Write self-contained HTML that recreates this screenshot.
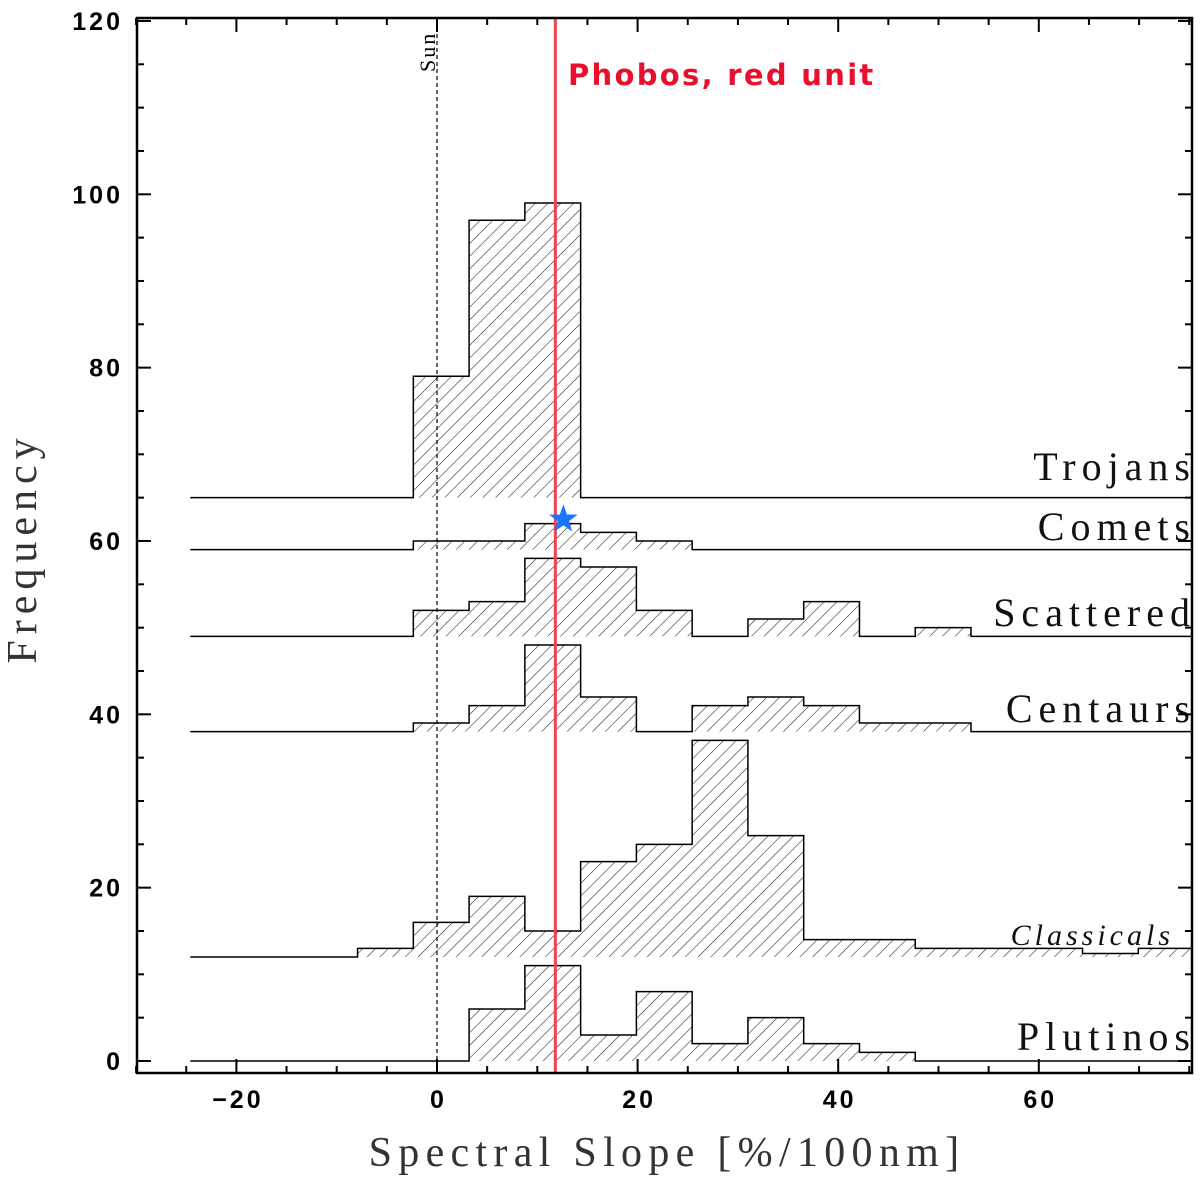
<!DOCTYPE html>
<html><head><meta charset="utf-8"><style>
body{margin:0;background:#fff}
svg{display:block}
</style></head><body>
<svg id="chart" width="1200" height="1188" viewBox="0 0 1200 1188" xmlns="http://www.w3.org/2000/svg">
<defs>
<pattern id="hatch" patternUnits="userSpaceOnUse" width="9" height="9" patternTransform="rotate(45)">
<line x1="0" y1="0" x2="0" y2="9" stroke="#222" stroke-width="1.1"/>
</pattern>
</defs>
<g id="plot"></g>
</svg>
<script>
const binEdges=[-24.6,-19.04,-13.48,-7.92,-2.36,3.2,8.76,14.32,19.88,25.44,31,36.56,42.12,47.68,53.24,58.8,64.36,69.92,75.48];
const seriesNames=["Trojans","Comets","Scattered","Centaurs","Classicals","Plutinos"];
const baselines=[65,59,49,38,12,0];
const trojans=[65,65,65,65,79,97,99,65,65,65,65,65,65,65,65,65,65,65];
const comets=[59,59,59,59,60,60,62,61,60,59,59,59,59,59,59,59,59,59];
const scattered=[49,49,49,49,52,53,58,57,52,49,51,53,49,50,49,49,49,49];
const centaurs=[38,38,38,38,39,41,48,42,38,41,42,41,39,39,38,38,38,38];
const classicals=[12,12,12,13,16,19,15,23,25,37,26,14,14,13,13,13,12.4,13];
const plutinos=[0,0,0,0,0,6,11,3,8,2,5,2,1,0,0,0,0,0];
const xTicks=[-20,0,20,40,60];
const yTicks=[0,20,40,60,80,100,120];
const phobosSlope=11.8, starPoint=[12.6,62.5], sunSlope=0;

const X=v=>437+v*10.03;
const Y=v=>1061-v*8.667;
const NS="http://www.w3.org/2000/svg";
const g=document.getElementById('plot');
function mk(t,a){const e=document.createElementNS(NS,t);for(const k in a)e.setAttribute(k,a[k]);g.appendChild(e);return e;}

const all=[trojans,comets,scattered,centaurs,classicals,plutinos];
const labelPos=[[1196,480],[1196,540],[1196,626],[1196,722],[1174,945],[1196,1050]];
all.forEach((vals,si)=>{
  const base=baselines[si];
  let d=`M${X(binEdges[0])},${Y(base)}`;
  let area=`M${X(binEdges[0])},${Y(base)}`;
  vals.forEach((v,i)=>{
    d+=` L${X(binEdges[i])},${Y(v)} L${X(binEdges[i+1])},${Y(v)}`;
    area+=` L${X(binEdges[i])},${Y(v)} L${X(binEdges[i+1])},${Y(v)}`;
  });
  const xe=Math.min(X(binEdges[vals.length]),1192);
  area+=` L${xe},${Y(base)} Z`;
  const a=mk('path',{d:area,fill:'url(#hatch)',stroke:'none'});
  
  
  const p=mk('path',{d:d,fill:'none',stroke:'#000','stroke-width':1.5});
  
  
  const t=mk('text',{x:labelPos[si][0],y:labelPos[si][1],'text-anchor':'end','font-family':'Liberation Serif, serif','font-size':si==4?30:40,'font-style':si==4?'italic':'normal','letter-spacing':si==4?4:6,fill:'#111'});
  t.textContent=seriesNames[si];
  
  
});
const m=mk('rect',{x:1193,y:0,width:7,height:1188,fill:'#fff'});



const sl=mk('line',{x1:X(sunSlope),x2:X(sunSlope),y1:20,y2:1072,stroke:'#000','stroke-width':1.2,'stroke-dasharray':'4,3'});


const st=mk('text',{x:0,y:0,transform:`translate(${X(sunSlope)-2},72) rotate(-90)`,'font-family':'Liberation Serif, serif','font-size':22,'letter-spacing':2});
st.textContent='Sun';



const pl=mk('line',{x1:X(phobosSlope),x2:X(phobosSlope),y1:18,y2:1073,stroke:'#ec4450','stroke-width':3});


const pt=mk('text',{x:568,y:85,'font-family':'DejaVu Sans, sans-serif','font-weight':'bold','font-size':29,'letter-spacing':2.3,fill:'#e8102c'});
pt.textContent='Phobos, red unit';



const cx=X(starPoint[0]),cy=Y(starPoint[1]);let sp='';
for(let i=0;i<10;i++){const r=i%2?6:15,a=-Math.PI/2+i*Math.PI/5;sp+=(cx+r*Math.cos(a))+','+(cy+r*Math.sin(a))+' ';}
const sr=mk('polygon',{points:sp,fill:'#1a75ff'});



const fr=mk('rect',{x:137,y:18,width:1055,height:1055,fill:'none',stroke:'#000','stroke-width':2.5});



for(let v=-30;v<=75;v+=5){
  const major=v%20===0,L=major?14:7;
  const t1=mk('line',{x1:X(v),x2:X(v),y1:1073,y2:1073-L,stroke:'#000','stroke-width':2});
  
  const t2=mk('line',{x1:X(v),x2:X(v),y1:18,y2:18+L,stroke:'#000','stroke-width':2});
  
}
for(let v=0;v<=120;v+=5){
  const major=v%20===0,L=major?14:7;
  const t1=mk('line',{x1:137,x2:137+L,y1:Y(v),y2:Y(v),stroke:'#000','stroke-width':2});
  
  const t2=mk('line',{x1:1192,x2:1192-L,y1:Y(v),y2:Y(v),stroke:'#000','stroke-width':2});
  
}
xTicks.forEach(v=>{
  const t=mk('text',{x:X(v)+1.5,y:1108,'text-anchor':'middle','font-family':'Liberation Sans, sans-serif','font-weight':'bold','font-size':25,'letter-spacing':3});
  t.textContent=v<0?'\u2212'+(-v):v;
  
});
yTicks.forEach(v=>{
  const t=mk('text',{x:123,y:Y(v)+9,'text-anchor':'end','font-family':'Liberation Sans, sans-serif','font-weight':'bold','font-size':25,'letter-spacing':3});
  t.textContent=v;
  
});
const xt=mk('text',{x:667,y:1166,'text-anchor':'middle','font-family':'Liberation Serif, serif','font-size':42,'letter-spacing':6.3,fill:'#333'});
xt.textContent='Spectral Slope [%/100nm]';

const yt=mk('text',{x:0,y:0,transform:'translate(36,548) rotate(-90)','text-anchor':'middle','font-family':'Liberation Serif, serif','font-size':42,'letter-spacing':6,fill:'#333'});
yt.textContent='Frequency';

</script>
</body></html>
